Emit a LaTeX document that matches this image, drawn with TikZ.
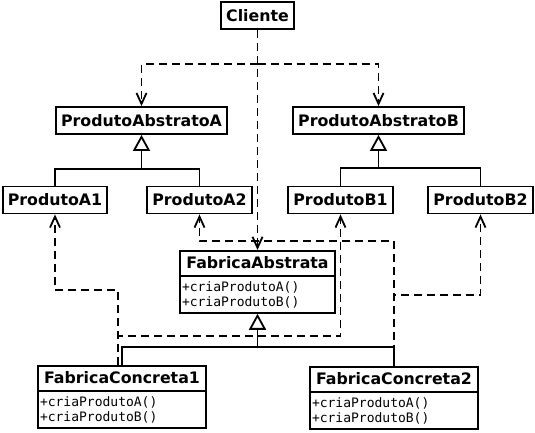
\documentclass[tikz,border=0pt]{standalone}
\usepackage{fontspec}
\setmainfont{DejaVu Sans}
\setmonofont{DejaVu Sans Mono}
\usepackage{tikz}
\usetikzlibrary{positioning}
\usetikzlibrary{shapes.multipart}
\usetikzlibrary{arrows.meta}

\newcommand{\alto}{\rule[-5pt]{0pt}{20pt}}
\newcommand{\metodos}{{\ttfamily\mdseries\fontsize{13}{14.5}\selectfont
	\begin{tabular}{@{}l@{}}\rule{0pt}{13.5pt}+criaProdutoA()\\+criaProdutoB()\end{tabular}}}

\begin{document}
\begin{tikzpicture}[x=1pt, y=-1pt,
		classe/.style={draw, line width=1.8pt, font=\fontsize{15.8}{18}\selectfont\bfseries, inner xsep=5pt, minimum height=27pt},
		fabrica/.style={draw, line width=1.8pt, rectangle split, rectangle split parts=2, rectangle split part align={center,left}, font=\fontsize{15.8}{18}\selectfont\bfseries, inner xsep=2pt, inner ysep=1.5pt, minimum width=168pt, anchor=north},
		linha/.style={line width=1.8pt},
		gen/.style={line width=1.8pt, -{Triangle[open, length=16pt, width=17pt]}},
		dep/.style={line width=1.8pt, dash pattern=on 8pt off 5pt, -{Straight Barb[length=11pt, width=10pt]}}]
	
	\useasboundingbox (0,0) rectangle (535,432);
	
	\node[classe] (cliente) at (257.5,15.5) {Cliente};
	\node[classe] (PAA) at (141.5,120.5) {ProdutoAbstratoA};
	\node[classe] (PAB) at (378.5,120.5) {ProdutoAbstratoB};
	\node[classe] (PA1) at (55,200) {ProdutoA1};
	\node[classe] (PA2) at (199.5,200) {ProdutoA2};
	\node[classe] (PB1) at (340.5,200) {ProdutoB1};
	\node[classe] (PB2) at (480.5,200) {ProdutoB2};
	\node[fabrica, minimum width=155pt] (FA) at (257.5,250) {\alto FabricaAbstrata \nodepart{two} \metodos};
	\node[fabrica] (FC1) at (122,365) {\alto FabricaConcreta1 \nodepart{two} \metodos};
	\node[fabrica] (FC2) at (394,366) {\alto FabricaConcreta2 \nodepart{two} \metodos};
	
	\coordinate (cl) at (257.5,64);
	\coordinate (jA) at (141.5,169);
	\coordinate (jB) at (378.5,168);
	\coordinate (jF) at (257.5,347);
	\coordinate (d1) at (118,365);
	
	% dependencias
	\draw[dep] (cliente.south) -- (FA.north);
	\draw[dep] (cl) -| (PAA.north);
	\draw[dep] (cl) -| (PAB.north);
	
	\draw[dep] (d1) -- ++(0,-75) -| (PA1.south);
	\draw[dep] (d1) -- ++(0,-29) -| (PB1.south);
	\draw[dep] (FC2.north) -- ++(0,-125) -| (PA2.south);
	\draw[dep] (FC2.north) -- ++(0,-71) -| (PB2.south);
	
	% heranca
	\draw[linha] (PA1.north) |- (jA) -| (PA2.north);
	\draw[gen] (jA) -- (PAA.south);
	\draw[linha] (PB1.north) |- (jB) -| (PB2.north);
	\draw[gen] (jB) -- (PAB.south);
	\draw[linha] (FC1.north) |- (jF) -| (FC2.north);
	\draw[gen] (jF) -- (FA.south);
	
\end{tikzpicture}
\end{document}
